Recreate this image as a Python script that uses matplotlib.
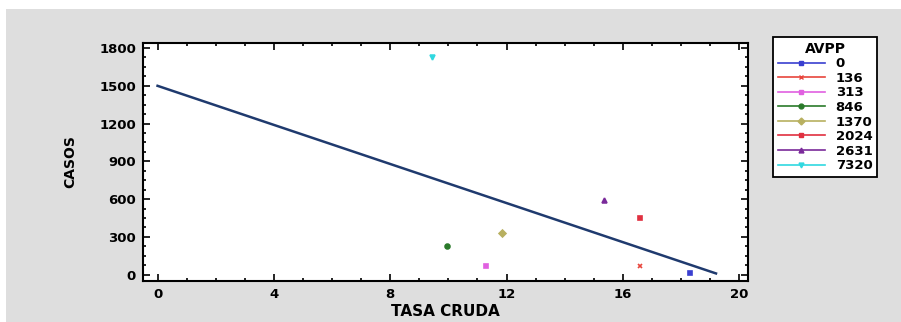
import matplotlib.pyplot as plt
from matplotlib.patches import Rectangle
from matplotlib.ticker import MultipleLocator

# AVPP groups: tasa cruda (x) vs casos (y)
groups = ["0", "136", "313", "846", "1370", "2024", "2631", "7320"]
tasa = [18.3, 16.6, 11.3, 9.95, 11.85, 16.6, 15.35, 9.45]
casos = [10, 70, 70, 225, 335, 450, 590, 1725]
colors = ["#3a3fd0", "#e8453c", "#e060e0", "#2a7a2a", "#b8b060",
          "#e03040", "#7a2a9a", "#30d8e0"]
markers = ["s", "x", "s", "o", "D", "s", "^", "v"]

# fitted regression line
fit_x = [0, 19.2]
fit_y = [1500, 10]

plt.rcParams["font.family"] = ["DejaVu Sans"]
plt.rcParams["font.weight"] = "bold"

fig = plt.figure(figsize=(9.01, 3.22), dpi=100, facecolor="white")
fig.patches.append(Rectangle((6 / 901, 0), 1, 1 - 9 / 322, transform=fig.transFigure,
                             facecolor="#dedede", edgecolor="none", zorder=-10))

ax = fig.add_axes([143 / 901, 1 - 281 / 322, 605 / 901, 238 / 322])
ax.set_facecolor("white")

ax.plot(fit_x, fit_y, color="#1f3a6e", lw=1.8, zorder=2)
for g, x, y, c, m in zip(groups, tasa, casos, colors, markers):
    ax.plot(x, y, linestyle="-", lw=0, marker=m, ms=3.5, color=c,
            markeredgewidth=1.2, label=g, zorder=3)

ax.set_xlim(-0.5, 20.3)
ax.set_ylim(-50, 1840)
ax.xaxis.set_major_locator(MultipleLocator(4))
ax.xaxis.set_minor_locator(MultipleLocator(1))
ax.yaxis.set_major_locator(MultipleLocator(300))
ax.yaxis.set_minor_locator(MultipleLocator(75))
ax.tick_params(which="both", direction="in", top=True, right=True,
               labelsize=9.5, width=1.2)
ax.tick_params(which="major", length=5, pad=5)
ax.tick_params(which="minor", length=2.5)
for sp in ax.spines.values():
    sp.set_linewidth(1.5)

ax.set_xlabel("TASA CRUDA", fontsize=11, fontweight="bold", labelpad=2)
ax.set_ylabel("CASOS", fontsize=10, fontweight="bold", labelpad=16)

handles = []
for c, m, g in zip(colors, markers, groups):
    h, = ax.plot([], [], color=c, marker=m, ms=3.5, lw=1.2, label=g)
    handles.append(h)
leg = fig.legend(handles=handles, labels=groups, title="AVPP",
                 loc="upper left", bbox_to_anchor=(773 / 901, 1 - 37 / 322),
                 frameon=True, fancybox=False, edgecolor="black",
                 facecolor="white", framealpha=1,
                 fontsize=9.5, title_fontsize=10, handlelength=3.6,
                 labelspacing=0.12, borderpad=0.35, handletextpad=0.8,
                 borderaxespad=0)
leg.get_frame().set_linewidth(1.3)
leg.get_title().set_fontweight("bold")

fig.savefig("out.png", dpi=100, facecolor=fig.get_facecolor())
